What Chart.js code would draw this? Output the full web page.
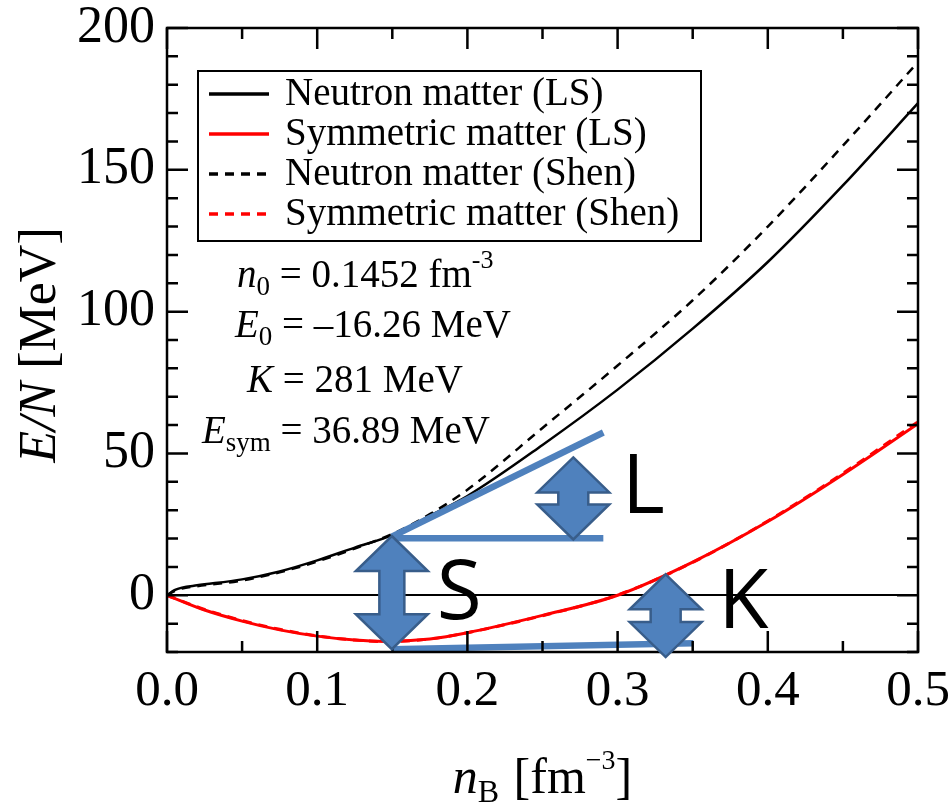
<!DOCTYPE html>
<html>
<head>
<meta charset="utf-8">
<script src="https://cdn.jsdelivr.net/npm/chart.js@4.4.0/dist/chart.umd.min.js"></script>
<style>
  html, body { margin: 0; padding: 0; background: #fff; }
  #wrap { width: 949px; height: 806px; }
</style>
</head>
<body>
<div id="wrap"><canvas id="eosChart" width="949" height="806"></canvas></div>
<script>
// baryon density n_B [fm^-3] and energy per nucleon E/N [MeV]
var densNeutron = [0, 0.005, 0.01, 0.02, 0.05, 0.075, 0.1, 0.125, 0.15, 0.175, 0.2, 0.25, 0.3, 0.35, 0.4, 0.45, 0.5];
var neutronLS   = [0, 1.8, 2.7, 3.5, 5.6, 8.4, 12.3, 16.8, 21.2, 28.0, 35.0, 53.0, 72.5, 94.0, 117.5, 144.5, 173.5];
var neutronShen = [0, 1.5, 2.4, 3.2, 5.2, 8.1, 11.9, 16.5, 21.6, 28.6, 37.2, 59.0, 81.0, 104.0, 130.0, 158.5, 188.0];

var densSym = [0, 0.025, 0.05, 0.075, 0.1, 0.125, 0.145, 0.175, 0.2, 0.25, 0.3, 0.35, 0.4, 0.45, 0.5];
var symLS   = [0, -5.2, -9.1, -12.2, -14.4, -15.8, -16.26, -15.4, -13.2, -7.1, 0.0, 11.7, 26.0, 42.6, 60.5];
var symShen = [0, -5.0, -8.9, -12.0, -14.3, -15.8, -16.3, -15.4, -13.2, -7.2, 0.1, 11.6, 26.2, 43.0, 61.2];

var seriesNames = ['Neutron matter (LS)', 'Symmetric matter (LS)', 'Neutron matter (Shen)', 'Symmetric matter (Shen)'];
var seriesColors = ['#000000', '#ff0000', '#000000', '#ff0000'];
var seriesDashed = [false, false, true, true];

var xTicks = [0, 0.1, 0.2, 0.3, 0.4, 0.5];
var yTicks = [0, 50, 100, 150, 200];

// saturation properties printed inside the plot
var paramValues = ['0.1452', '\u201316.26', '281', '36.89'];

// L / S / K sketch, in data units
var tangentX = [0.1497, 0.2905], tangentY = [20.7, 57.4];
var levelX = [0.1497, 0.2905],   levelY = [20.1, 20.1];
var floorX = [0.1497, 0.3504],   floorY = [-19.0, -16.9];
var arrowNames  = ['S', 'L', 'K'];
var arrowX      = [0.1497, 0.2705, 0.332];
var arrowTop    = [20.9, 48.6, 7.4];
var arrowBottom = [-19.0, 19.7, -21.8];
var letterX     = [0.1796, 0.303, 0.367];
var letterY     = [-0.3, 37.3, -3.2];

function pairs(xs, ys) {
  return xs.map(function (x, i) { return { x: x, y: ys[i] }; });
}

var SERIF = '"Liberation Serif", "Times New Roman", serif';
var BLUE = '#4f81bd', BLUE_EDGE = '#385d8a';

function curve(i, xs, ys) {
  return {
    label: seriesNames[i],
    data: pairs(xs, ys),
    borderColor: seriesColors[i],
    borderWidth: seriesColors[i] === '#ff0000' ? 3 : 2.5,
    borderDash: seriesDashed[i] ? [9, 7] : [],
    cubicInterpolationMode: 'monotone',
    pointRadius: 0,
    fill: false,
    order: 1
  };
}

function sketchLine(xs, ys) {
  return {
    data: pairs(xs, ys),
    borderColor: BLUE,
    borderWidth: 6.5,
    borderCapStyle: 'butt',
    pointRadius: 0,
    fill: false,
    order: 0
  };
}

function drawRuns(ctx, x, y, runs) {
  runs.forEach(function (r) {
    ctx.font = (r.italic ? 'italic ' : '') + r.size + 'px ' + SERIF;
    ctx.fillText(r.text, x, y + (r.dy || 0));
    x += ctx.measureText(r.text).width + (r.gap || 0);
  });
  return x;
}

function runsWidth(ctx, runs) {
  var w = 0;
  runs.forEach(function (r) {
    ctx.font = (r.italic ? 'italic ' : '') + r.size + 'px ' + SERIF;
    w += ctx.measureText(r.text).width + (r.gap || 0);
  });
  return w;
}

function upDownArrow(ctx, cx, top, bot, headW, headH, shaftW) {
  ctx.beginPath();
  ctx.moveTo(cx, top);
  ctx.lineTo(cx + headW / 2, top + headH);
  ctx.lineTo(cx + shaftW / 2, top + headH);
  ctx.lineTo(cx + shaftW / 2, bot - headH);
  ctx.lineTo(cx + headW / 2, bot - headH);
  ctx.lineTo(cx, bot);
  ctx.lineTo(cx - headW / 2, bot - headH);
  ctx.lineTo(cx - shaftW / 2, bot - headH);
  ctx.lineTo(cx - shaftW / 2, top + headH);
  ctx.lineTo(cx - headW / 2, top + headH);
  ctx.closePath();
  ctx.fillStyle = BLUE;
  ctx.fill();
  ctx.lineWidth = 2.5;
  ctx.strokeStyle = BLUE_EDGE;
  ctx.stroke();
}

var framePlugin = {
  id: 'frame',
  beforeDatasetsDraw: function (chart) {
    var ctx = chart.ctx, a = chart.chartArea, y = chart.scales.y;
    ctx.save();
    ctx.strokeStyle = '#000';
    ctx.lineWidth = 2;
    var y0 = Math.round(y.getPixelForValue(0));
    ctx.beginPath();
    ctx.moveTo(a.left, y0);
    ctx.lineTo(a.right, y0);
    ctx.stroke();
    ctx.restore();
  },
  afterDatasetsDraw: function (chart) {
    var ctx = chart.ctx, a = chart.chartArea, sx = chart.scales.x, sy = chart.scales.y;
    ctx.save();
    ctx.strokeStyle = '#000';
    ctx.lineWidth = 2.5;
    ctx.strokeRect(a.left, a.top, a.right - a.left, a.bottom - a.top);
    ctx.beginPath();
    var v, p, len;
    // x ticks every 0.05, long ones on the 0.1 labels
    for (var i = 0; i <= 10; i++) {
      v = i * 0.05;
      p = sx.getPixelForValue(v);
      len = i % 2 === 0 ? 21 : 11;
      ctx.moveTo(p, a.bottom); ctx.lineTo(p, a.bottom - len);
      ctx.moveTo(p, a.top);    ctx.lineTo(p, a.top + len);
    }
    // y ticks every 10 MeV, long ones on the 50 MeV labels
    for (var j = -20; j <= 200; j += 10) {
      p = sy.getPixelForValue(j);
      len = j % 50 === 0 ? 21 : 11;
      ctx.moveTo(a.left, p);  ctx.lineTo(a.left + len, p);
      ctx.moveTo(a.right, p); ctx.lineTo(a.right - len, p);
    }
    ctx.stroke();
    ctx.restore();
  },
  afterDraw: function (chart) {
    var ctx = chart.ctx, a = chart.chartArea, sx = chart.scales.x, sy = chart.scales.y;
    ctx.save();

    // legend box
    ctx.fillStyle = '#fff';
    ctx.fillRect(198, 71, 503, 170);
    ctx.strokeStyle = '#000';
    ctx.lineWidth = 2;
    ctx.strokeRect(198, 71, 503, 170);
    seriesNames.forEach(function (name, i) {
      var ry = 94 + i * 40;
      ctx.beginPath();
      ctx.setLineDash(seriesDashed[i] ? [9, 7] : []);
      ctx.strokeStyle = seriesColors[i];
      ctx.lineWidth = 3.5;
      ctx.moveTo(209, ry);
      ctx.lineTo(269, ry);
      ctx.stroke();
      ctx.setLineDash([]);
      ctx.fillStyle = '#000';
      ctx.textBaseline = 'alphabetic';
      ctx.textAlign = 'left';
      ctx.font = '39px ' + SERIF;
      ctx.fillText(name, 285, ry + 11);
    });

    // saturation properties
    ctx.fillStyle = '#000';
    ctx.textAlign = 'left';
    ctx.textBaseline = 'alphabetic';
    drawRuns(ctx, 237, 287, [
      { text: 'n', italic: true, size: 39 },
      { text: '0', size: 27, dy: 8 },
      { text: ' = ' + paramValues[0] + ' fm', size: 39 },
      { text: '-3', size: 26, dy: -19 }
    ]);
    drawRuns(ctx, 235, 337, [
      { text: 'E', italic: true, size: 39 },
      { text: '0', size: 27, dy: 8 },
      { text: ' = ' + paramValues[1] + ' MeV', size: 39 }
    ]);
    drawRuns(ctx, 247, 392, [
      { text: 'K', italic: true, size: 39 },
      { text: ' = ' + paramValues[2] + ' MeV', size: 39 }
    ]);
    drawRuns(ctx, 202, 443, [
      { text: 'E', italic: true, size: 39 },
      { text: 'sym', size: 27, dy: 8 },
      { text: ' = ' + paramValues[3] + ' MeV', size: 39 }
    ]);

    // axis titles
    var xRuns = [
      { text: 'n', italic: true, size: 50 },
      { text: 'B', size: 32, dy: 9, gap: 2 },
      { text: ' [fm', size: 50 },
      { text: '\u22123', size: 28, dy: -24 },
      { text: ']', size: 50 }
    ];
    var xw = runsWidth(ctx, xRuns);
    drawRuns(ctx, (a.left + a.right) / 2 - xw / 2, 793, xRuns);

    var yRuns = [
      { text: 'E/N', italic: true, size: 52 },
      { text: ' [MeV]', size: 52 }
    ];
    var yw = runsWidth(ctx, yRuns);
    ctx.save();
    ctx.translate(55, 345);
    ctx.rotate(-Math.PI / 2);
    drawRuns(ctx, -yw / 2, 0, yRuns);
    ctx.restore();

    // L / S / K arrows and letters
    arrowNames.forEach(function (name, i) {
      var cx = sx.getPixelForValue(arrowX[i]);
      var top = sy.getPixelForValue(arrowTop[i]);
      var bot = sy.getPixelForValue(arrowBottom[i]);
      upDownArrow(ctx, cx, top, bot, 72, 35, i === 0 ? 25 : 30);
      ctx.fillStyle = '#000';
      ctx.font = '82px "Open Sans", "Liberation Sans", Arial, sans-serif';
      ctx.textAlign = 'left';
      ctx.textBaseline = 'middle';
      ctx.fillText(name, sx.getPixelForValue(letterX[i]), sy.getPixelForValue(letterY[i]));
    });

    ctx.restore();
  }
};

var ctx = document.getElementById('eosChart').getContext('2d');
var eosChart = new Chart(ctx, {
  type: 'line',
  data: {
    datasets: [
      sketchLine(tangentX, tangentY),
      sketchLine(levelX, levelY),
      sketchLine(floorX, floorY),
      curve(0, densNeutron, neutronLS),
      curve(1, densSym, symLS),
      curve(2, densNeutron, neutronShen),
      curve(3, densSym, symShen)
    ]
  },
  options: {
    responsive: false,
    animation: false,
    devicePixelRatio: 1,
    layout: { padding: { left: 0, right: 31, top: 28, bottom: 0 } },
    plugins: { legend: { display: false }, tooltip: { enabled: false } },
    scales: {
      x: {
        type: 'linear',
        min: 0,
        max: 0.5,
        grid: { display: false, drawTicks: false },
        border: { display: false },
        ticks: {
          color: '#000',
          padding: 14,
          maxRotation: 0,
          autoSkip: false,
          font: { family: SERIF, size: 51, lineHeight: 1 },
          callback: function (v) { return Number(v).toFixed(1); }
        },
        afterBuildTicks: function (s) { s.ticks = xTicks.map(function (v) { return { value: v }; }); },
        afterFit: function (s) { s.height = 154; s.paddingLeft = 0; s.paddingRight = 0; }
      },
      y: {
        type: 'linear',
        min: -20,
        max: 200,
        grid: { display: false, drawTicks: false },
        border: { display: false },
        ticks: {
          color: '#000',
          padding: 12,
          autoSkip: false,
          font: { family: SERIF, size: 52, lineHeight: 1 },
          callback: function (v) { return String(v); }
        },
        afterBuildTicks: function (s) { s.ticks = yTicks.map(function (v) { return { value: v }; }); },
        afterFit: function (s) { s.width = 167; s.paddingTop = 0; s.paddingBottom = 0; }
      }
    }
  },
  plugins: [framePlugin]
});
</script>
</body>
</html>
